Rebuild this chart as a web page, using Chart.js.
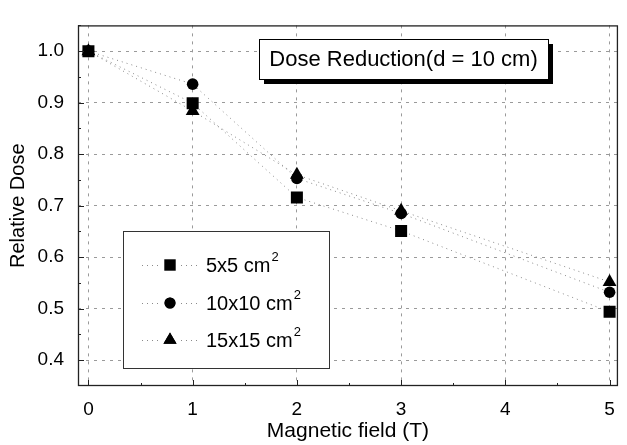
<!DOCTYPE html>
<html>
<head>
<meta charset="utf-8">
<script src="https://cdn.jsdelivr.net/npm/chart.js@4/dist/chart.umd.min.js"></script>
<style>
  html, body { margin: 0; padding: 0; background: #fff; }
  #wrap { width: 627px; height: 445px; position: relative; }
</style>
</head>
<body>
<div id="wrap"><canvas id="c" width="627" height="445"></canvas></div>
<script>
// ---- data ----
const fieldT = [0, 1, 2, 3, 5];
const dose5x5 = [1.0, 0.899, 0.716, 0.651, 0.494];
const dose10x10 = [1.0, 0.936, 0.753, 0.685, 0.532];
const dose15x15 = [1.0, 0.884, 0.760, 0.690, 0.552];
const seriesNames = ['5x5 cm', '10x10 cm', '15x15 cm'];
const xTicks = [0, 1, 2, 3, 4, 5];
const yTicks = [0.4, 0.5, 0.6, 0.7, 0.8, 0.9, 1.0];
const yTickLabels = ['0.4', '0.5', '0.6', '0.7', '0.8', '0.9', '1.0'];
const annotationText = 'Dose Reduction(d = 10 cm)';
const xTitle = 'Magnetic field (T)';
const yTitle = 'Relative Dose';

const FONT = "'Liberation Sans', Arial, sans-serif";
const toPts = arr => fieldT.map((x, i) => ({ x: x, y: arr[i] }));

const styles = [
  { pointStyle: 'rect', pointRadius: 8.5 },
  { pointStyle: 'circle', pointRadius: 5.8 },
  { pointStyle: 'triangle', pointRadius: 8 }
];
const seriesData = [dose5x5, dose10x10, dose15x15];

const datasets = seriesData.map((arr, i) => ({
  label: seriesNames[i],
  data: toPts(arr),
  showLine: true,
  borderColor: '#8a8a8a',
  borderWidth: 1,
  borderDash: [1, 4],
  backgroundColor: '#000',
  pointBackgroundColor: '#000',
  pointBorderColor: '#000',
  pointBorderWidth: 0,
  pointStyle: styles[i].pointStyle,
  pointRadius: styles[i].pointRadius,
  pointHoverRadius: styles[i].pointRadius
}));

const decorPlugin = {
  id: 'decor',
  afterDraw(chart) {
    const ctx = chart.ctx;
    const a = chart.chartArea;
    const xs = chart.scales.x, ys = chart.scales.y;
    ctx.save();
    // frame
    ctx.strokeStyle = '#222';
    ctx.lineWidth = 1.3;
    ctx.strokeRect(a.left + 0.5, a.top + 0.5, a.right - a.left - 1, a.bottom - a.top - 1);
    // inner ticks
    ctx.lineWidth = 1;
    ctx.beginPath();
    for (let i = 0; i < xTicks.length; i++) {
      const px = Math.round(xs.getPixelForValue(xTicks[i])) + 0.5;
      ctx.moveTo(px, a.bottom); ctx.lineTo(px, a.bottom - 6);
      if (i < xTicks.length - 1) {
        const pm = Math.round(xs.getPixelForValue((xTicks[i] + xTicks[i + 1]) / 2)) + 0.5;
        ctx.moveTo(pm, a.bottom); ctx.lineTo(pm, a.bottom - 3);
      }
    }
    for (let i = 0; i < yTicks.length; i++) {
      const py = Math.round(ys.getPixelForValue(yTicks[i])) + 0.5;
      ctx.moveTo(a.left, py); ctx.lineTo(a.left + 6, py);
      const mids = [];
      if (i < yTicks.length - 1) mids.push((yTicks[i] + yTicks[i + 1]) / 2);
      if (i === 0) mids.push(yTicks[0] - 0.05);
      if (i === yTicks.length - 1) mids.push(yTicks[i] + 0.05);
      mids.forEach(v => {
        const pm = Math.round(ys.getPixelForValue(v)) + 0.5;
        if (pm > a.top && pm < a.bottom) { ctx.moveTo(a.left, pm); ctx.lineTo(a.left + 3, pm); }
      });
    }
    ctx.stroke();

    // annotation box with shadow
    const bx = 259, by = 39, bw = 289, bh = 40;
    ctx.fillStyle = '#000';
    ctx.fillRect(bx + 5, by + 5, bw, bh);
    ctx.fillStyle = '#fff';
    ctx.fillRect(bx, by, bw, bh);
    ctx.strokeStyle = '#000';
    ctx.lineWidth = 1;
    ctx.strokeRect(bx + 0.5, by + 0.5, bw, bh);
    ctx.fillStyle = '#000';
    ctx.font = '22px ' + FONT;
    ctx.textAlign = 'center';
    ctx.textBaseline = 'middle';
    ctx.fillText(annotationText, bx + bw / 2, by + bh / 2 + 1);

    // legend box
    const lx = 123, ly = 231, lw = 206, lh = 137;
    ctx.fillStyle = '#fff';
    ctx.fillRect(lx, ly, lw, lh);
    ctx.strokeStyle = '#333';
    ctx.lineWidth = 1;
    ctx.strokeRect(lx + 0.5, ly + 0.5, lw, lh);
    const rowsY = [265, 303, 340];
    chart.data.datasets.forEach((ds, i) => {
      const yy = rowsY[i];
      ctx.save();
      ctx.strokeStyle = '#8a8a8a';
      ctx.setLineDash([1, 4]);
      ctx.beginPath();
      ctx.moveTo(142, yy + 0.5); ctx.lineTo(160, yy + 0.5);
      ctx.moveTo(181, yy + 0.5); ctx.lineTo(199, yy + 0.5);
      ctx.stroke();
      ctx.restore();
      Chart.helpers.drawPoint(ctx, {
        pointStyle: ds.pointStyle,
        radius: ds.pointRadius * 0.95,
        rotation: 0,
        borderWidth: 0
      }, 170, yy);
      ctx.fillStyle = '#000';
      ctx.fill();
      ctx.font = '20px ' + FONT;
      ctx.textAlign = 'left';
      ctx.textBaseline = 'middle';
      ctx.fillText(ds.label, 206, yy + 1);
      const w = ctx.measureText(ds.label).width;
      ctx.font = '13px ' + FONT;
      ctx.fillText('2', 206 + w + 1, yy - 8);
    });
    ctx.restore();
  }
};

new Chart(document.getElementById('c'), {
  type: 'scatter',
  data: { datasets: datasets },
  plugins: [decorPlugin],
  options: {
    responsive: false,
    animation: false,
    events: [],
    layout: { padding: { left: 0, top: 6, right: 2, bottom: 0 } },
    plugins: { legend: { display: false }, tooltip: { enabled: false } },
    scales: {
      x: {
        type: 'linear',
        min: -0.1,
        max: 5.08,
        afterBuildTicks: s => { s.ticks = xTicks.map(v => ({ value: v })); },
        afterFit: s => { s.height = 59; },
        ticks: {
          color: '#000',
          font: { family: FONT, size: 19 },
          padding: 12,
          callback: v => String(v)
        },
        grid: { color: '#9a9a9a', lineWidth: 1, drawTicks: false },
        border: { display: false, dash: [3, 5] },
        title: {
          display: true,
          text: xTitle,
          color: '#000',
          font: { family: FONT, size: 21, lineHeight: 1.2 },
          padding: { top: 0, bottom: 1 }
        }
      },
      y: {
        type: 'linear',
        min: 0.35,
        max: 1.05,
        afterBuildTicks: s => { s.ticks = yTicks.map(v => ({ value: v })); },
        afterFit: s => { s.width = 78; },
        ticks: {
          color: '#000',
          font: { family: FONT, size: 19 },
          padding: 14,
          callback: v => yTickLabels[yTicks.findIndex(t => Math.abs(t - v) < 1e-6)]
        },
        grid: { color: '#9a9a9a', lineWidth: 1, drawTicks: false },
        border: { display: false, dash: [3, 5] },
        title: {
          display: true,
          text: yTitle,
          color: '#000',
          font: { family: FONT, size: 20, lineHeight: 1.2 },
          padding: { top: 6, bottom: 0 }
        }
      }
    }
  }
});
</script>
</body>
</html>
